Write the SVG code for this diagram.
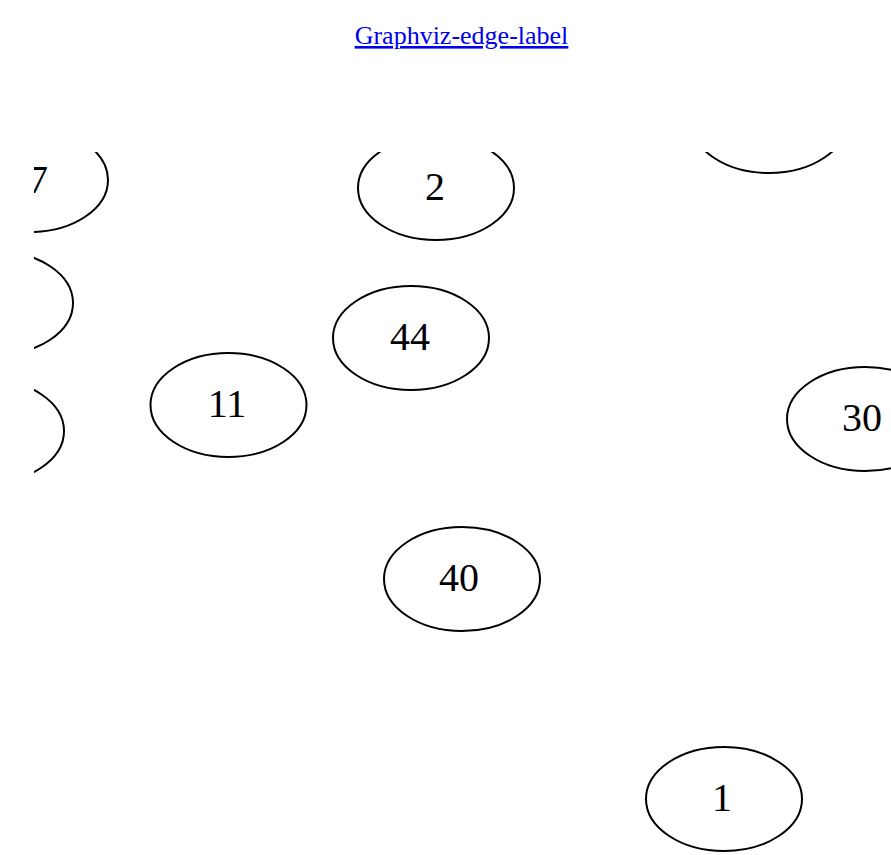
<svg xmlns="http://www.w3.org/2000/svg" width="891" height="855" viewBox="0 0 891 855">
<style>
.title{font-family:"Liberation Serif","Times New Roman",serif;font-size:26px;fill:#0000ee;text-decoration:underline;}
.n ellipse{fill:none;stroke:#000;stroke-width:2;}
.n text{font-family:"Liberation Serif","Times New Roman",serif;font-size:40px;fill:#000;text-anchor:middle;}
</style>
<defs>
<clipPath id="view"><rect x="34" y="152" width="857" height="703"/></clipPath>
</defs>
<rect width="891" height="855" fill="#fff"/>
<a href="#"><text class="title" x="461.5" y="44" text-anchor="middle">Graphviz-edge-label</text></a>
<g clip-path="url(#view)">
<g id="connectors"></g>
<g id="node-top" class="n"><ellipse cx="769" cy="121" rx="78" ry="52"/></g>
<g id="node-7" class="n"><ellipse cx="30" cy="180" rx="78" ry="52"/><text x="38" y="193">7</text></g>
<g id="node-left2" class="n"><ellipse cx="-5" cy="303" rx="78" ry="52"/></g>
<g id="node-left3" class="n"><ellipse cx="-14" cy="431" rx="78" ry="52"/></g>
<g id="node-2" class="n"><ellipse cx="436" cy="188" rx="78" ry="52"/><text x="435" y="200">2</text></g>
<g id="node-44" class="n"><ellipse cx="411" cy="338" rx="78" ry="52"/><text x="410" y="350">44</text></g>
<g id="node-11" class="n"><ellipse cx="228.5" cy="405" rx="78" ry="52"/><text x="227" y="417">11</text></g>
<g id="node-30" class="n"><ellipse cx="865" cy="419" rx="78" ry="52"/><text x="862" y="431">30</text></g>
<g id="node-40" class="n"><ellipse cx="462" cy="579" rx="78" ry="52"/><text x="459" y="591">40</text></g>
<g id="node-1" class="n"><ellipse cx="724" cy="799" rx="78" ry="52"/><text x="722" y="811">1</text></g>
</g>
</svg>
